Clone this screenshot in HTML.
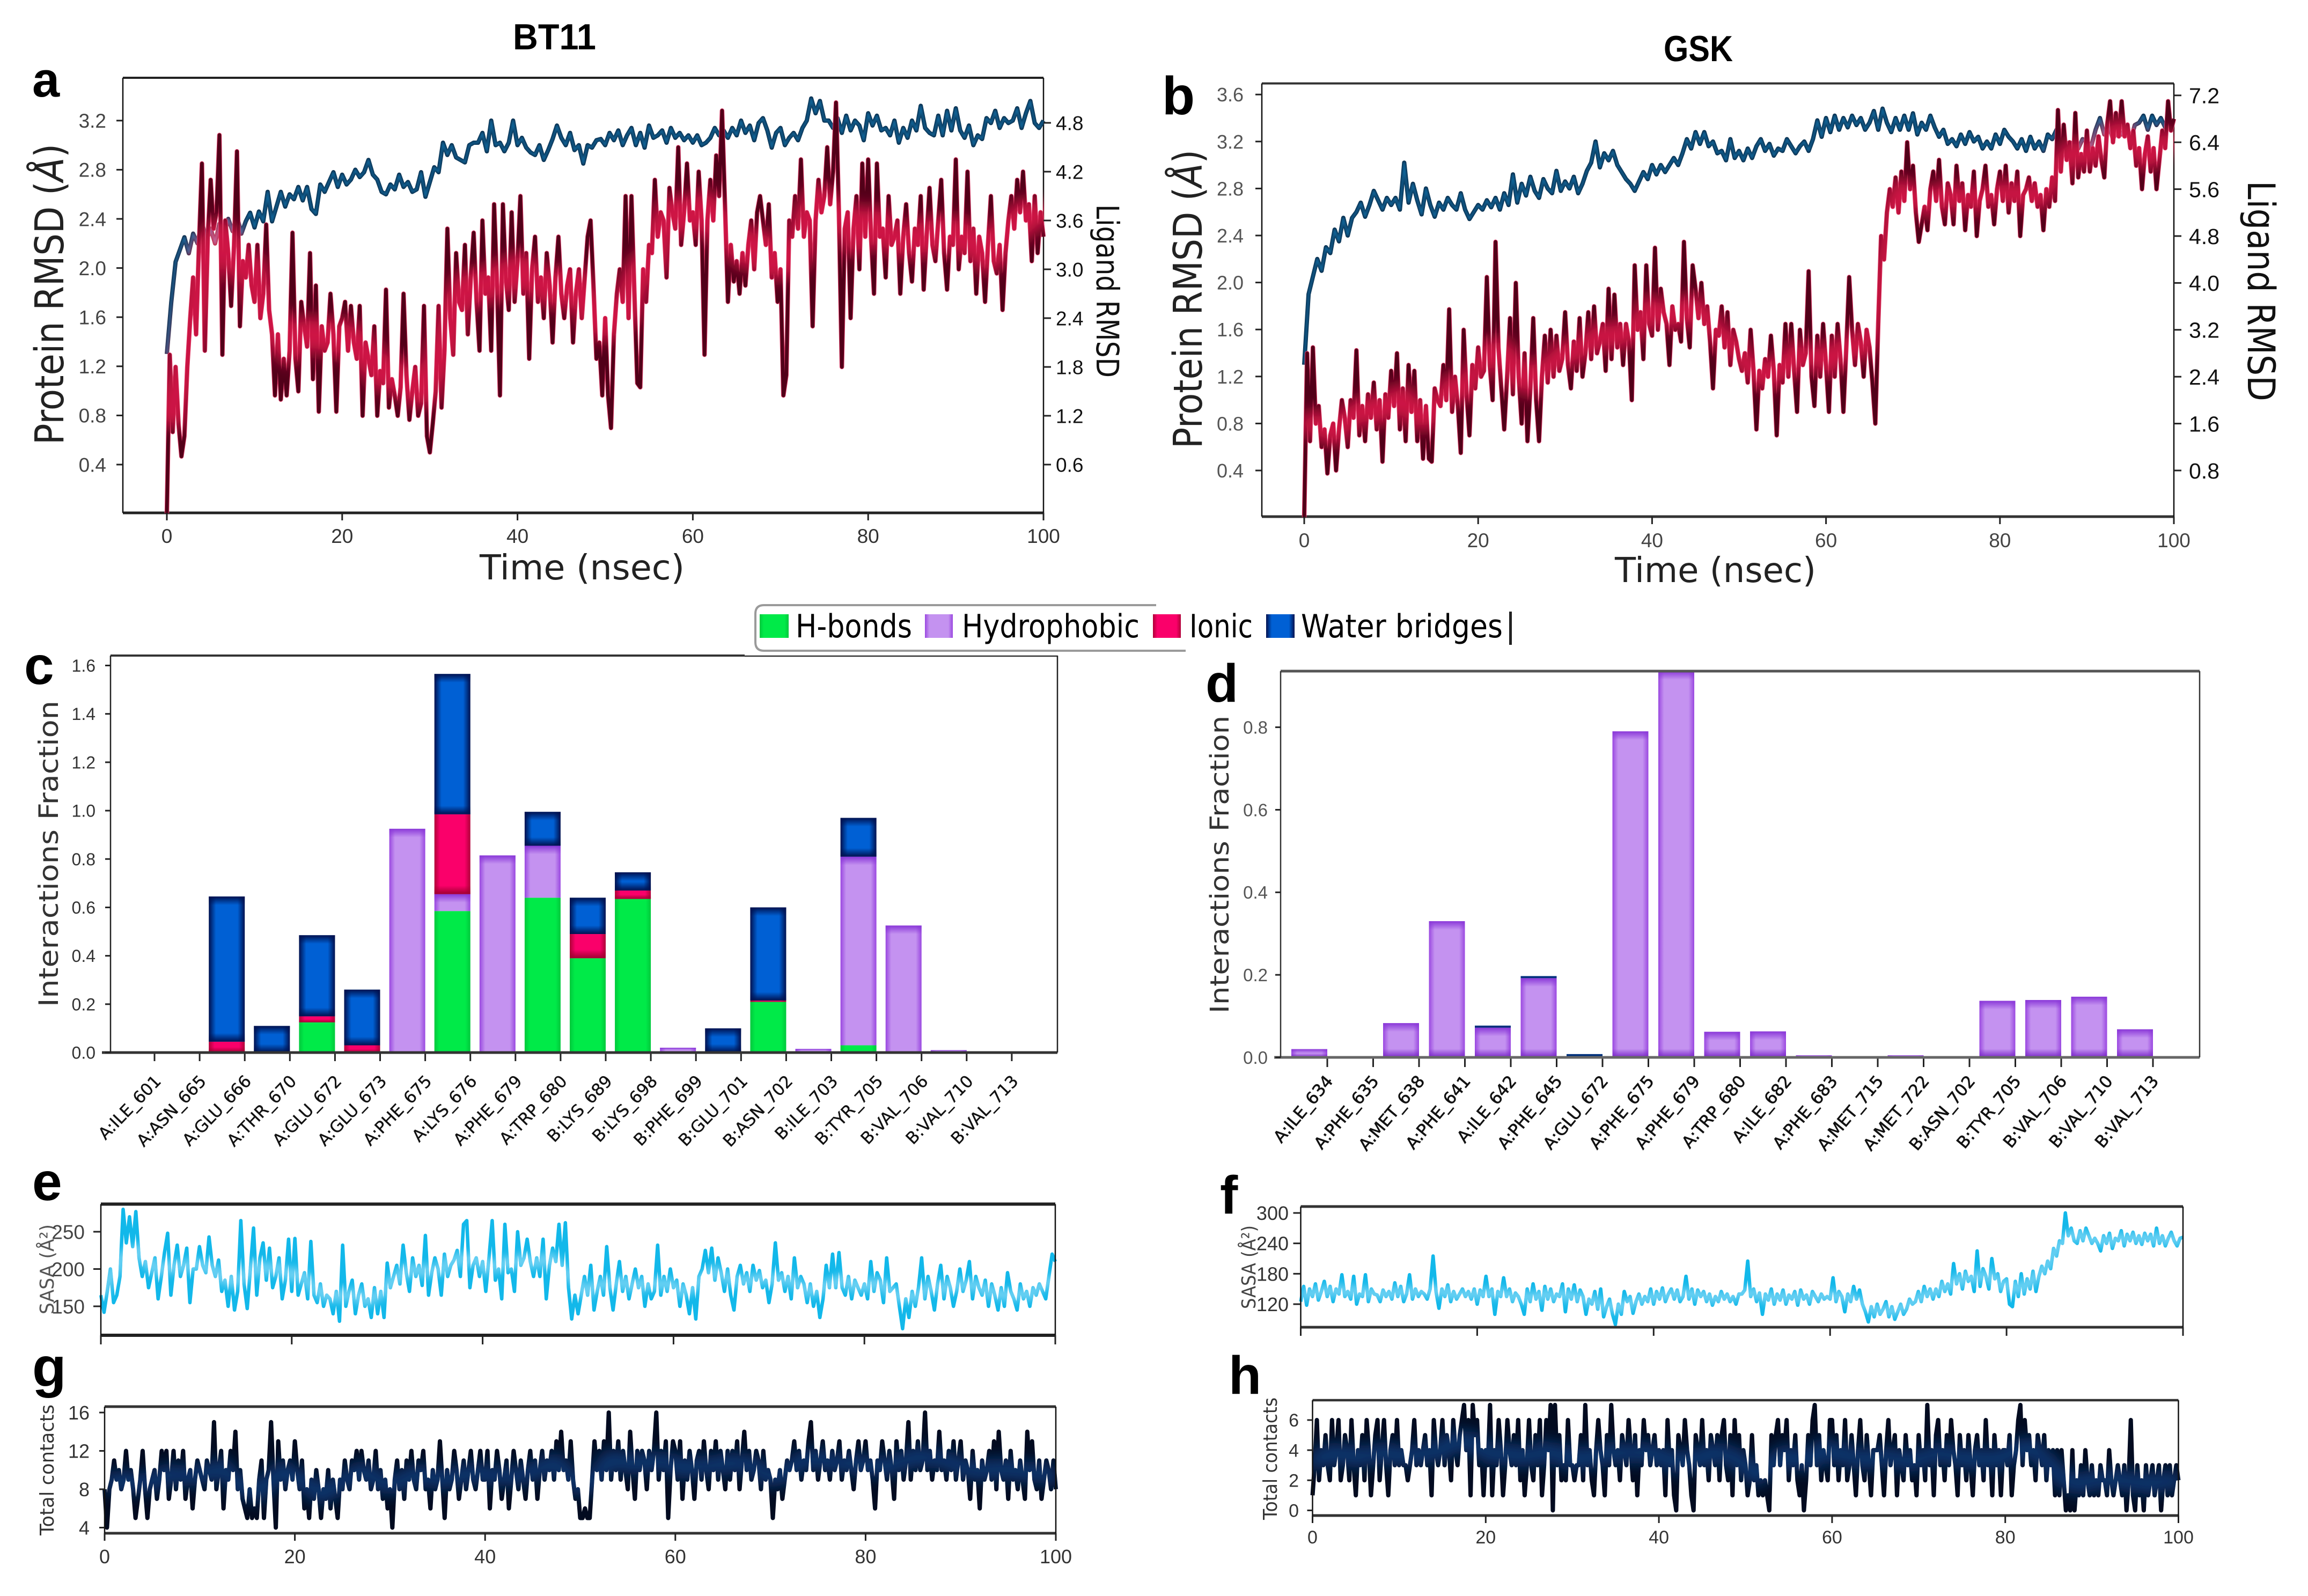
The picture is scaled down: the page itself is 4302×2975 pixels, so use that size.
<!DOCTYPE html>
<html lang="en">
<head>
<meta charset="utf-8">
<title>BT11 and GSK molecular dynamics panels</title>
<style>
html,body{margin:0;padding:0;background:#fff}
svg{display:block}
text{font-family:"Liberation Sans",sans-serif}
.dj{font-family:"DejaVu Sans",sans-serif}
</style>
</head>
<body>
<svg id="fig" xmlns="http://www.w3.org/2000/svg" width="4302" height="2975" viewBox="0 0 4302 2975">
<defs>
<linearGradient id="gGreen"><stop offset="0" stop-color="#00c83c"/><stop offset=".14" stop-color="#00ea48"/><stop offset=".86" stop-color="#00ea48"/><stop offset="1" stop-color="#00c83c"/></linearGradient>
<linearGradient id="gPurple"><stop offset="0" stop-color="#9a48e0"/><stop offset=".16" stop-color="#c492f0"/><stop offset=".84" stop-color="#c492f0"/><stop offset="1" stop-color="#9a48e0"/></linearGradient>
<linearGradient id="gPink"><stop offset="0" stop-color="#b00038"/><stop offset=".16" stop-color="#fa006a"/><stop offset=".84" stop-color="#fa006a"/><stop offset="1" stop-color="#b00038"/></linearGradient>
<linearGradient id="gBlue"><stop offset="0" stop-color="#00114f"/><stop offset=".2" stop-color="#0060d4"/><stop offset=".8" stop-color="#0060d4"/><stop offset="1" stop-color="#00114f"/></linearGradient>
<linearGradient id="gTopBlue" x1="0" y1="0" x2="0" y2="1"><stop offset="0" stop-color="#00114f"/><stop offset="1" stop-color="#00114f" stop-opacity="0"/></linearGradient>
<linearGradient id="gBotBlue" x1="0" y1="1" x2="0" y2="0"><stop offset="0" stop-color="#00114f"/><stop offset="1" stop-color="#00114f" stop-opacity="0"/></linearGradient>
<linearGradient id="gTopPurple" x1="0" y1="0" x2="0" y2="1"><stop offset="0" stop-color="#8a38d8"/><stop offset="1" stop-color="#8a38d8" stop-opacity="0"/></linearGradient>
<linearGradient id="gBotPurple" x1="0" y1="1" x2="0" y2="0"><stop offset="0" stop-color="#7a28c8"/><stop offset="1" stop-color="#7a28c8" stop-opacity="0"/></linearGradient>
<linearGradient id="gBotPink" x1="0" y1="1" x2="0" y2="0"><stop offset="0" stop-color="#a00030"/><stop offset="1" stop-color="#a00030" stop-opacity="0"/></linearGradient>
<filter id="blurS" filterUnits="userSpaceOnUse" x="0" y="0" width="4302" height="2975"><feGaussianBlur stdDeviation="2"/></filter>
<filter id="blurM" filterUnits="userSpaceOnUse" x="0" y="0" width="4302" height="2975"><feGaussianBlur stdDeviation="7"/></filter>
<filter id="blurL" filterUnits="userSpaceOnUse" x="0" y="0" width="4302" height="2975"><feGaussianBlur stdDeviation="14"/></filter>
</defs>
<rect x="0" y="0" width="4302" height="2975" fill="#fff"/>

<text x="956" y="92" font-size="68" font-weight="700" textLength="155" lengthAdjust="spacingAndGlyphs">BT11</text>
<text x="3101" y="114" font-size="68" font-weight="700" textLength="129" lengthAdjust="spacingAndGlyphs">GSK</text>

<text x="60" y="180" font-size="92" font-weight="700">a</text>
<text x="2166" y="213" font-size="100" font-weight="700">b</text>
<text x="45" y="1275" font-size="100" font-weight="700">c</text>
<text x="2247" y="1308" font-size="100" font-weight="700">d</text>
<text x="60" y="2237" font-size="100" font-weight="700">e</text>
<text x="2274" y="2262" font-size="100" font-weight="700">f</text>
<text x="60" y="2584" font-size="104" font-weight="700">g</text>
<text x="2290" y="2598" font-size="100" font-weight="700">h</text>

<text class="dj" transform="translate(118 829) rotate(-90)" font-size="74" fill="#222" textLength="561" lengthAdjust="spacingAndGlyphs">Protein RMSD (<tspan font-style="italic">Å</tspan>)</text>
<text class="dj" transform="translate(2044 381) rotate(90)" font-size="58" fill="#111" textLength="323" lengthAdjust="spacingAndGlyphs">Ligand RMSD</text>
<text class="dj" x="894" y="1080" font-size="64" fill="#222" textLength="382" lengthAdjust="spacingAndGlyphs">Time (nsec)</text>

<text class="dj" transform="translate(2240 836) rotate(-90)" font-size="74" fill="#222" textLength="557" lengthAdjust="spacingAndGlyphs">Protein RMSD (<tspan font-style="italic">Å</tspan>)</text>
<text class="dj" transform="translate(4190 337) rotate(90)" font-size="70" fill="#111" textLength="411" lengthAdjust="spacingAndGlyphs">Ligand RMSD</text>
<text class="dj" x="3010" y="1085" font-size="64" fill="#222" textLength="375" lengthAdjust="spacingAndGlyphs">Time (nsec)</text>

<text class="dj" transform="translate(108 1877) rotate(-90)" font-size="50" fill="#333" textLength="571" lengthAdjust="spacingAndGlyphs">Interactions Fraction</text>
<text class="dj" transform="translate(2290 1889) rotate(-90)" font-size="48" fill="#333" textLength="555" lengthAdjust="spacingAndGlyphs">Interactions Fraction</text>

<text class="dj" transform="translate(100 2450) rotate(-90)" font-size="36" fill="#555" textLength="168" lengthAdjust="spacingAndGlyphs">SASA (Å²)</text>
<text class="dj" transform="translate(2340 2440) rotate(-90)" font-size="36" fill="#444" textLength="156" lengthAdjust="spacingAndGlyphs">SASA (Å²)</text>
<text class="dj" transform="translate(100 2862) rotate(-90)" font-size="36" fill="#333" textLength="244" lengthAdjust="spacingAndGlyphs">Total contacts</text>
<text class="dj" transform="translate(2380 2833) rotate(-90)" font-size="36" fill="#333" textLength="228" lengthAdjust="spacingAndGlyphs">Total contacts</text>

<g>
<path d="M2155 1128H1424Q1408 1128 1408 1144V1197Q1408 1213 1424 1213H2210" fill="none" stroke="#9a9a9a" stroke-width="4"/>
<rect x="1416" y="1145" width="54" height="44" fill="url(#gGreen)"/>
<text class="dj" x="1483" y="1188" font-size="60" textLength="217" lengthAdjust="spacingAndGlyphs">H-bonds</text>
<rect x="1724" y="1145" width="52" height="44" fill="url(#gPurple)"/>
<text class="dj" x="1793" y="1188" font-size="60" textLength="331" lengthAdjust="spacingAndGlyphs">Hydrophobic</text>
<rect x="2149" y="1145" width="52" height="44" fill="url(#gPink)"/>
<text class="dj" x="2217" y="1188" font-size="60" textLength="118" lengthAdjust="spacingAndGlyphs">Ionic</text>
<rect x="2360" y="1145" width="53" height="44" fill="url(#gBlue)"/>
<text class="dj" x="2425" y="1188" font-size="60" textLength="376" lengthAdjust="spacingAndGlyphs">Water bridges</text>
<rect x="2813" y="1140" width="5" height="62" fill="#222"/>
</g>
</svg>

<script>
/* ---------- Panel a: RMSD, BT11 ---------- */
const aTimeTicks=[0,20,40,60,80,100];
const aProteinTicks=[0.4,0.8,1.2,1.6,2.0,2.4,2.8,3.2];
const aLigandTicks=[0.6,1.2,1.8,2.4,3.0,3.6,4.2,4.8];
const aProtein=[1.3,1.72,2.05,2.15,2.25,2.12,2.28,2.2,2.38,2.22,2.32,2.2,2.36,2.28,2.4,2.3,2.42,2.28,2.38,2.45,
2.33,2.46,2.38,2.62,2.38,2.5,2.62,2.5,2.6,2.56,2.66,2.55,2.66,2.48,2.44,2.68,2.62,2.7,2.78,2.66,
2.76,2.68,2.72,2.8,2.74,2.78,2.88,2.76,2.72,2.62,2.6,2.68,2.64,2.76,2.66,2.7,2.62,2.64,2.78,2.58,
2.7,2.82,2.78,3.02,2.92,3,2.9,2.88,2.86,3,3.02,3.02,3.1,2.95,3.2,3,3.02,2.95,3.02,3.2,
3,3.06,2.98,2.94,2.92,3,2.88,2.96,3.05,3.16,3.06,3,3.1,2.96,3,2.85,3,2.98,3.04,3.05,
3,3.1,3.04,3.12,3,3.08,3.14,3,3.1,2.98,3.16,3.06,3.08,3.12,3.02,3.14,3.06,3.1,3.04,3.08,
3.02,3.08,3,3.02,3.06,3.14,3.08,3.12,3.06,3.14,3.08,3.2,3.1,3.16,3.04,3.18,3.22,3.12,2.98,3.1,
3.14,3,3.06,3.1,3.04,3.14,3.2,3.38,3.26,3.36,3.2,3.2,3.14,3.22,3.1,3.24,3.12,3.2,3.16,3.04,
3.26,3.16,3.24,3.12,3.14,3.08,3.2,3.02,3.14,3.06,3.2,3.12,3.32,3.14,3.1,3.08,3.24,3.08,3.28,3.12,
3.3,3.12,3.06,3.16,3,3.08,3.05,3.22,3.18,3.28,3.14,3.22,3.18,3.2,3.3,3.14,3.26,3.36,3.18,3.14,3.2];
const aLigand=[0,1.95,1,1.8,1.1,.7,.95,1.8,2.4,2.9,2.2,3.3,4.3,2,3.4,4.1,3.5,3.7,4.65,1.95,3.6,3.2,2.55,3.3,4.45,2.3,3.1,2.9,3.3,2.8,
2.6,3.3,2.4,2.7,3.55,2.5,2.2,1.45,2.2,1.4,1.9,1.45,2,3.45,1.9,1.5,2.6,2.3,2.05,3.2,1.65,2.8,1.25,2.3,2,2.1,2.7,2.2,1.25,2.3,
2.4,2.6,2,2.55,2.1,1.9,2.55,1.2,2.1,1.9,1.7,2.3,1.2,1.75,1.6,2.75,1.3,1.65,1.45,1.2,1.55,2.7,1.7,1.15,1.5,1.8,1.2,1.35,2.55,.95,
.75,1.1,1.5,2.55,1.3,2,3.5,2.4,1.95,3.2,2.6,2.5,3.3,2.2,2.9,3.45,2.6,2,3.6,2.7,2.9,2,3.8,2.8,1.45,3.8,2.9,2.5,3.7,2.6,
3.1,3.9,2.7,3.2,1.9,3,3.4,2.6,2.9,2.4,3.2,2.8,2.1,2.9,3.4,2.7,2.4,2.8,3,2.1,2.7,3,2.4,2.9,3.4,3.6,2.8,1.9,2.1,1.45,
2.4,1.45,1.05,2.2,2.7,3,2.6,3.9,2.4,3.9,2.7,1.6,1.55,3,2.6,3.3,3.2,4.1,3.4,3.7,3.6,2.9,4,3.7,3.5,4.5,3.3,3.7,4.3,3.6,
3.7,3.3,4.2,3.6,1.95,3.6,4.1,3.6,4.4,3.9,4.95,3.8,2.6,3.3,2.85,3.1,2.7,3.2,2.8,3.3,3.6,3,3.7,3.9,3.6,3.3,3.8,2.9,3.2,2.6,
3,1.45,1.7,3.6,3.4,3.9,3.5,4.35,3.4,3.7,3.6,2.3,3.6,4.1,3.7,3.9,4.5,3.8,4.2,5.05,3.7,1.8,3.5,3.7,2.4,3.5,3.9,3,4.3,3.4,
4.35,3.4,2.7,4.3,3.4,3.5,2.9,3.9,3.3,3.4,3.6,2.7,3.4,3.8,3.2,2.85,3.5,3.3,3.9,2.75,3.4,4,3.3,3.1,3.6,4.1,3.2,2.75,3.4,3.3,
4.35,3,3.4,3.2,4.2,3.1,3.5,2.7,3.4,3.2,2.6,3.3,3.9,3.1,2.95,3.3,2.5,3.2,3.6,3.9,3.5,4.1,3.7,4.2,3.6,3.8,3.1,3.9,3.2,3.7,3.4];

/* ---------- Panel b: RMSD, GSK ---------- */
const bTimeTicks=[0,20,40,60,80,100];
const bProteinTicks=[0.4,0.8,1.2,1.6,2.0,2.4,2.8,3.2,3.6];
const bLigandTicks=[0.8,1.6,2.4,3.2,4.0,4.8,5.6,6.4,7.2];
const bProtein=[1.3,1.9,2.05,2.2,2.1,2.3,2.25,2.45,2.35,2.55,2.4,2.55,2.6,2.68,2.56,2.66,2.78,2.7,2.62,2.72,
2.66,2.72,2.62,3.02,2.68,2.84,2.7,2.58,2.8,2.66,2.56,2.68,2.62,2.72,2.66,2.62,2.76,2.62,2.54,2.6,
2.66,2.62,2.7,2.64,2.72,2.62,2.76,2.66,2.92,2.68,2.84,2.74,2.9,2.78,2.72,2.88,2.8,2.76,2.95,2.78,
2.86,2.8,2.9,2.76,2.84,2.95,3.02,3.2,2.98,3.1,3.04,3.12,3,2.94,2.88,2.84,2.78,2.86,2.94,2.88,
3,2.92,3,2.94,3,3.06,3,3.1,3.22,3.14,3.28,3.18,3.28,3.16,3.2,3.1,3.12,3.04,3.22,3.06,
3.12,3.04,3.14,3.06,3.16,3.22,3.12,3.18,3.08,3.14,3.12,3.22,3.16,3.1,3.16,3.2,3.12,3.22,3.38,3.24,
3.4,3.28,3.42,3.3,3.4,3.32,3.42,3.34,3.4,3.3,3.36,3.46,3.3,3.48,3.36,3.28,3.4,3.3,3.42,3.3,
3.44,3.26,3.36,3.3,3.42,3.32,3.24,3.3,3.18,3.22,3.16,3.26,3.18,3.28,3.2,3.24,3.14,3.2,3.14,3.26,
3.18,3.3,3.24,3.2,3.14,3.22,3.12,3.24,3.14,3.2,3.12,3.26,3.22,3.3,3.16,3.2,3.16,3.2,3.14,3.22,
3.2,3.16,3.3,3.4,3.26,3.34,3.22,3.3,3.26,3.32,3.2,3.34,3.36,3.42,3.3,3.42,3.34,3.4,3.32,3.38,3.36];
const bLigand=[0,2.8,1.3,2.9,1.6,1.9,1.2,1.5,.75,1.4,1.6,.8,1.5,2,1.7,1.2,2,1.7,2.85,1.4,1.9,1.3,2.1,1.7,2.3,1.5,2,.95,2.1,1.7,
2.5,1.9,2.8,1.5,2.2,1.3,2.6,1.8,2.5,1.3,2,1,1.9,1,.95,2.2,2,1.9,2.6,2,3.55,1.8,2.4,1.9,1.1,3.2,2.1,1.4,2.6,2.2,
2.9,2.4,2.5,4.1,2.6,2,4.7,2.9,2.2,1.5,2.4,3.4,2.1,4,2.4,1.6,2.8,1.3,2.2,3.4,2,1.3,2.4,3.1,2.3,3.2,2.4,3.1,2.5,2.7,
3.5,2.6,2.2,3,2.5,3.4,2.4,2.8,3.5,2.7,3.6,2.8,3,3.3,2.5,3.9,2.7,3.8,2.9,3.3,2.6,3.3,3,2,4.3,3.2,3.5,2.7,4.3,3.3,
3.1,4.6,3.2,3.9,3.5,3.3,2.6,3.6,3.2,3.3,3,4.7,3.4,2.9,4.3,3.9,3.4,4,3.3,3.6,3,2.2,3.2,3.1,3.6,2.9,3.5,2.6,3.2,3,
2.7,2.5,2.8,2.3,3.2,2.5,1.5,2.5,2.2,2.7,2.4,3.1,2.5,1.4,2.6,2.3,3.3,2.4,3.3,2.5,1.8,3.2,2.6,2.8,4.2,2.4,1.9,3.1,2.4,3.3,
2.6,1.8,3.1,2.4,3.3,2.7,1.8,2.9,4.1,3.2,2.6,3.3,3,2.4,3.2,2.9,2.3,1.6,3.3,4.8,4.4,5.2,5.6,5.3,5.8,5.2,5.9,5.4,6.4,5.6,
6,5.2,4.7,5,5.3,4.9,5.6,5.9,5.4,6.1,5.3,5,5.7,5.5,5,6,5.4,5.7,4.9,5.5,5.3,5.9,4.8,5.4,5.6,6,5.3,5.5,5,5.6,
5.9,5.4,6,5.2,5.7,5.4,5.9,4.8,5.5,5.6,5.8,5.4,5.7,5.3,5.5,4.9,5.6,5.3,5.8,5.4,6.95,5.9,6.7,6.1,6.4,5.7,6.9,5.8,6.2,5.9,
6.6,5.9,6.3,6,6.5,6.1,5.8,6.7,7.1,6.4,6.9,6.5,7.1,6.5,6.7,6.3,6.6,6,6.3,5.6,6.2,6.5,5.9,6.3,5.6,6.1,6.6,6.3,7.1,6.6,6.8];

/* ---------- Panel c: interaction fractions, BT11 ---------- */
const cResidues=["A:ILE_601","A:ASN_665","A:GLU_666","A:THR_670","A:GLU_672","A:GLU_673","A:PHE_675","A:LYS_676","A:PHE_679","A:TRP_680","B:LYS_689","B:LYS_698","B:PHE_699","B:GLU_701","B:ASN_702","B:ILE_703","B:TYR_705","B:VAL_706","B:VAL_710","B:VAL_713"];
const cHbonds=[0,0,0,0,.125,0,0,.585,0,.64,.39,.635,0,0,.21,0,.03,0,0,0];
const cHydrophobic=[0,0,0,0,0,0,.925,.07,.815,.215,0,0,.02,0,0,.015,.78,.525,.01,.004];
const cIonic=[0,0,.045,0,.025,.03,0,.33,0,0,.1,.035,0,0,.005,0,0,0,0,0];
const cWater=[0,0,.6,.11,.335,.23,0,.58,0,.14,.15,.075,0,.1,.385,0,.16,0,0,0];
const cTicks=[0.0,0.2,0.4,0.6,0.8,1.0,1.2,1.4,1.6];

/* ---------- Panel d: interaction fractions, GSK ---------- */
const dResidues=["A:ILE_634","A:PHE_635","A:MET_638","A:PHE_641","A:ILE_642","A:PHE_645","A:GLU_672","A:PHE_675","A:PHE_679","A:TRP_680","A:ILE_682","A:PHE_683","A:MET_715","A:MET_722","B:ASN_702","B:TYR_705","B:VAL_706","B:VAL_710","B:VAL_713"];
const dHydrophobic=[.02,.003,.083,.33,.072,.192,0,.79,.936,.062,.063,.005,.003,.005,0,.137,.139,.147,.068];
const dWater=[0,0,0,0,.005,.005,.008,0,0,0,0,0,0,0,.003,0,0,0,0];
const dTicks=[0.0,0.2,0.4,0.6,0.8];

/* ---------- Panels e, f: SASA ---------- */
const eTicks=[150,200,250];
const eSasa=[165,142,170,200,155,165,190,280,235,270,230,277,215,190,210,175,195,215,160,190,222,248,165,205,232,190,205,228,155,200,
200,230,205,195,243,205,190,212,170,185,150,190,145,170,265,180,147,200,255,165,215,235,185,228,175,190,215,160,185,240,
170,241,165,180,195,160,237,165,155,180,150,165,160,140,170,130,232,150,170,185,140,165,180,150,160,135,175,140,170,135,
208,175,190,205,180,232,195,170,215,190,205,178,245,165,195,215,200,165,220,190,205,212,225,190,260,265,175,205,215,190,
210,170,215,265,185,200,160,260,195,200,170,250,205,215,240,210,190,215,190,240,160,205,228,210,260,205,262,175,133,165,
140,165,190,165,205,145,170,190,165,230,175,145,180,210,170,190,160,180,200,175,190,150,180,160,170,232,165,190,170,200,
175,185,150,180,165,140,175,133,190,200,225,195,228,185,215,195,170,200,165,145,190,205,180,195,170,205,185,198,175,185,
155,180,235,185,195,170,190,160,215,175,190,180,155,180,150,170,135,160,205,175,220,175,222,175,165,190,160,185,175,165,
180,160,210,170,195,185,155,215,170,175,180,150,120,160,135,170,150,175,215,160,190,170,145,180,205,160,190,175,150,170,
200,170,185,210,160,190,175,165,185,150,180,165,145,175,150,195,170,160,145,180,160,170,150,175,165,180,170,160,190,220,210];
const fTicks=[120,180,240,300];
const fSasa=[125,155,118,150,135,160,128,145,165,135,155,125,150,140,178,135,145,130,175,120,140,135,178,125,150,140,138,125,148,135,
145,130,162,135,155,125,140,178,130,150,135,145,140,130,150,215,145,112,150,135,158,125,145,130,140,150,135,145,130,150,
120,148,135,175,135,150,100,145,135,172,135,150,125,142,135,120,100,150,125,160,130,145,108,155,130,150,125,140,135,160,
105,150,130,158,125,148,135,100,130,120,145,110,150,95,115,130,100,80,120,100,145,125,135,102,125,140,120,135,125,150,
120,145,130,152,125,140,150,130,148,125,135,175,130,150,120,148,135,145,125,140,118,135,125,145,130,140,125,135,120,140,
140,148,205,135,150,125,142,100,140,128,150,120,140,128,148,120,138,130,145,118,148,130,138,120,145,135,125,140,130,135,
130,172,125,145,135,105,140,125,155,130,148,120,105,85,115,95,120,100,110,125,95,115,90,105,120,100,110,130,120,125,
145,125,155,135,150,130,150,135,165,145,160,140,200,160,180,150,185,165,175,145,225,155,190,175,150,210,170,180,145,165,
170,120,115,165,135,180,140,170,150,185,145,175,195,180,205,190,230,215,245,240,300,255,270,245,240,265,245,270,255,240,
250,240,225,255,240,260,230,250,245,265,235,258,245,262,240,255,238,260,245,258,235,270,240,255,235,250,262,245,235,250,252];

/* ---------- Panels g, h: total contacts ---------- */
const gTicks=[4,8,12,16];
const gTimeTicks=[0,20,40,60,80,100];
const gContacts=[8,4,8,9,11,9,10,8,9,12,9,10,8,5,7,9,12,8,5,8,9,10,7,9,12,10,12,7,9,12,8,11,9,12,7,9,10,6,9,11,
10,9,8,11,10,9,15,8,10,12,6,10,9,12,10,14,8,10,7,6,5,8,5,6,5,9,11,5,9,10,15,9,4,13,9,11,8,10,11,9,
13,10,8,11,6,8,5,9,7,10,8,5,8,7,10,6,9,7,5,9,8,11,9,8,11,10,12,9,12,10,9,11,8,9,12,8,10,7,9,6,
8,4,9,11,8,10,7,11,9,12,9,8,11,10,12,8,9,6,10,8,9,13,9,5,10,8,9,12,10,7,9,11,8,10,12,9,8,10,12,9,
9,12,6,10,9,12,10,7,9,11,6,9,12,10,8,11,9,7,10,12,9,11,7,10,12,9,11,10,12,9,13,10,14,10,11,9,13,9,7,8,
5,5,6,5,5,9,13,10,12,9,13,10,16,9,12,10,13,9,12,10,8,14,10,7,12,10,12,11,8,12,10,12,16,9,12,10,13,5,10,13,
12,9,13,7,11,9,12,10,7,11,12,9,13,10,8,12,10,13,9,12,10,8,12,9,12,10,13,8,11,14,10,12,9,10,12,11,8,12,9,10,
9,5,9,8,10,7,9,11,10,11,13,10,12,9,11,10,13,15,10,12,9,11,13,10,11,9,12,10,11,13,9,11,10,12,10,8,11,13,10,11,
13,10,11,9,6,11,10,13,11,9,12,10,7,13,10,12,9,11,15,9,12,10,13,10,11,16,10,12,9,11,10,14,10,11,9,12,10,13,9,11,
13,9,11,10,7,12,9,10,6,11,9,10,12,9,13,8,14,10,9,11,7,12,9,10,8,11,9,7,14,10,13,9,8,11,7,9,11,10,8,11,8];
const hTicks=[0,2,4,6];
const hTimeTicks=[0,20,40,60,80,100];
const hContacts=[1,3,6,2,4,3,5,3,2,6,3,4,6,2,3,5,4,2,6,3,1,4,3,5,2,6,4,1,3,5,6,2,4,6,3,1,4,5,3,6,
3,4,3,3,2,3,4,6,3,4,3,4,5,3,4,1,6,4,3,4,6,3,5,4,2,6,4,3,5,6,7,4,6,1,7,5,6,3,4,1,
4,3,7,1,4,3,6,4,1,3,6,4,3,5,3,6,2,4,1,3,6,3,2,5,3,6,1,3,6,4,7,0,7,3,5,2,3,2,6,3,
3,2,3,3,5,2,7,3,4,2,1,4,6,4,3,1,5,3,7,4,3,4,2,5,4,3,6,4,2,5,1,4,3,6,4,5,3,4,5,3,
4,3,4,1,6,3,4,1,0,5,4,3,6,4,3,1,0,5,4,3,6,3,4,2,5,4,3,5,2,5,6,3,2,5,1,6,3,5,2,4,
3,1,2,5,2,3,1,2,1,2,1,0,5,3,5,6,3,5,4,6,2,4,3,5,2,1,3,0,2,5,3,6,7,3,5,2,4,3,2,6,
6,3,5,2,4,3,6,2,3,5,3,1,4,6,3,2,5,3,1,4,4,4,5,3,1,4,6,3,4,5,1,4,3,2,5,3,4,2,3,1,
5,3,4,2,7,3,4,1,5,6,3,4,2,5,3,6,4,3,1,5,3,4,2,5,3,1,4,5,3,4,2,6,3,4,1,5,3,4,1,4,
4,3,5,1,3,4,6,7,3,6,4,5,3,4,2,5,4,3,5,2,4,3,4,1,4,1,4,2,0,1,0,4,0,2,1,3,1,4,2,1,
3,1,2,1,3,2,2,1,4,2,1,2,3,2,1,3,0,2,6,1,0,3,1,2,0,3,1,2,3,1,2,3,0,2,3,1,3,1,2,3,2];

/* ---------- drawing helpers ---------- */
const NS="http://www.w3.org/2000/svg";
const svg=document.getElementById("fig");
function make(tag,name,attrs){
  const el=document.createElementNS(NS,tag);
  
  
  for(const k in attrs){el.setAttribute(k,attrs[k]);}
  svg.appendChild(el);
  return el;
}
function label(name,str,x,y,size,anchor,fill,extra){
  const a=Object.assign({x:x,y:y,"font-size":size,"text-anchor":anchor,fill:fill},extra||{});
  const el=make("text",name,a);
  el.textContent=str;
  return el;
}
function hline(name,x0,x1,y,w,c){make("line",name,{x1:x0,x2:x1,y1:y,y2:y,stroke:c,"stroke-width":w});}
function vline(name,x,y0,y1,w,c){make("line",name,{x1:x,x2:x,y1:y0,y2:y1,stroke:c,"stroke-width":w});}
function linear(px0,v0,px1,v1){return v=>px0+(px1-px0)*(v-v0)/(v1-v0);}
function smooth(values,half){
  return values.map((_,i)=>{
    let s=0,n=0;
    for(let j=Math.max(0,i-half);j<=Math.min(values.length-1,i+half);j++){s+=values[j];n++;}
    return s/n;
  });
}
function toPoints(values,xf,yf){
  return values.map((v,i)=>xf(i*100/(values.length-1)).toFixed(1)+","+yf(v).toFixed(1)).join(" ");
}
/* dark trace with a bright core where the samples crowd together (the band centre) */
function trace(name,values,xf,yf,s){
  const pts=toPoints(values,xf,yf);
  if(s.halo){make("polyline",name+"-halo",{points:pts,fill:"none",stroke:s.halo,"stroke-width":s.haloW,"stroke-linejoin":"round"});}
  make("polyline",name,{points:pts,fill:"none",stroke:s.line,"stroke-width":s.lineW,"stroke-linejoin":"round"});
  const core=make("polyline",name+"-core",{points:toPoints(smooth(values,s.half),xf,yf),fill:"none",stroke:s.glow,"stroke-width":s.glowW,"stroke-opacity":s.glowO,"stroke-linejoin":"round",filter:"url(#"+s.blur+")"});
  core.style.mixBlendMode="lighten";
}
function frame(p,x0,x1,yT,yB,wT,wB,c){
  hline(p+"-frame-top",x0,x1,yT,wT,c);
  hline(p+"-frame-bottom",x0,x1,yB,wB,c);
  vline(p+"-frame-left",x0,yT,yB,2.5,"#111");
  vline(p+"-frame-right",x1,yT,yB,2.5,"#111");
}
function xTicks(p,ticks,xf,yB,len,labelY,size,fill){
  ticks.forEach(t=>{
    vline(p+"-x-tick-"+t,xf(t),yB,yB+len,3,"#222");
    if(labelY){label(p+"-x-tick-label-"+t,String(t),xf(t),labelY,size,"middle",fill);}
  });
}
function yTicks(p,ticks,yf,xAxis,dir,len,labelX,anchor,size,fill,digits){
  ticks.forEach(t=>{
    const txt=t.toFixed(digits);
    hline(p+"-y-tick-"+txt,xAxis,xAxis+dir*len,yf(t),3,"#222");
    label(p+"-y-tick-label-"+txt,txt,labelX,yf(t)+size*0.36,size,anchor,fill);
  });
}
function segment(p,name,x,w,yf,base,h,fill,topShade,botShade){
  if(h<=0)return;
  const yTop=yf(base+h),yBot=yf(base);
  const ht=Math.max(yBot-yTop,2.5);
  make("rect",p+"-"+name,{x:x,y:yTop,width:w,height:ht,fill:fill});
  const s=Math.min(16,ht/2);
  if(topShade){make("rect",p+"-"+name+"-top-shade",{x:x,y:yTop,width:w,height:s,fill:topShade});}
  if(botShade){make("rect",p+"-"+name+"-bottom-shade",{x:x,y:yBot-s,width:w,height:s,fill:botShade});}
}
const proteinStyle={line:"#0b2a46",lineW:8,glow:"#0a6fa6",glowO:.9,glowW:4,blur:"blurS",half:0};
const ligandStyleA={halo:"#e0406c",haloW:8.5,line:"#520019",lineW:6.5,glow:"#e4144e",glowO:.85,glowW:60,blur:"blurL",half:6};
const ligandStyleB={halo:"#e0406c",haloW:8.5,line:"#520019",lineW:6.5,glow:"#e4144e",glowO:.85,glowW:44,blur:"blurL",half:5};
const sasaStyle={line:"#12b8ea",lineW:6.5,glow:"#7fd6f5",glowO:.8,glowW:22,blur:"blurM",half:5};
const contactStyle={line:"#020b20",lineW:8,glow:"#083c78",glowO:.9,glowW:36,blur:"blurL",half:7};

/* ---------- panel a ---------- */
(function(){
  const x=linear(311,0,1945,100), yL=linear(957.6,0,866,0.4), yR=linear(957,0,866,0.6);
  frame("a",229,1945,145,956,4,5,"#222");
  trace("a-protein-rmsd-line",aProtein,x,yL,proteinStyle);
  trace("a-ligand-rmsd-line",aLigand,x,yR,ligandStyleA);
  xTicks("a",aTimeTicks,x,956,14,1012,37,"#333");
  yTicks("a-left",aProteinTicks,yL,229,-1,12,198,"end",37,"#444",1);
  yTicks("a-right",aLigandTicks,yR,1945,1,14,1968,"start",37,"#111",1);
})();

/* ---------- panel b ---------- */
(function(){
  const x=linear(2431,0,4052,100), yL=linear(964.6,0,877,0.4), yR=linear(964.4,0,877,0.8);
  frame("b",2352,4052,155.5,963,4,5,"#333");
  trace("b-protein-rmsd-line",bProtein,x,yL,proteinStyle);
  trace("b-ligand-rmsd-line",bLigand,x,yR,ligandStyleB);
  xTicks("b",bTimeTicks,x,963,14,1020,37,"#444");
  yTicks("b-left",bProteinTicks,yL,2352,-1,12,2318,"end",36,"#555",1);
  yTicks("b-right",bLigandTicks,yR,4052,1,14,4080,"start",41,"#111",1);
})();

/* ---------- panel c ---------- */
(function(){
  const y=linear(1962,0,1240.5,1.6), xTick=i=>288+84.1*i, w=67;
  cResidues.forEach((r,i)=>{
    const xr=xTick(i)-w;
    let b=0;
    segment("bar-"+r,"h-bonds",xr,w,y,b,cHbonds[i],"url(#gGreen)");
    b+=cHbonds[i];
    segment("bar-"+r,"hydrophobic",xr,w,y,b,cHydrophobic[i],"url(#gPurple)","url(#gTopPurple)");
    b+=cHydrophobic[i];
    segment("bar-"+r,"ionic",xr,w,y,b,cIonic[i],"url(#gPink)",null,"url(#gBotPink)");
    b+=cIonic[i];
    segment("bar-"+r,"water-bridges",xr,w,y,b,cWater[i],"url(#gBlue)","url(#gTopBlue)","url(#gBotBlue)");
    vline("c-x-tick-"+r,xTick(i),1962,1978,3,"#222");
    const lx=xTick(i)+14;
    label("c-x-tick-label-"+r,r,lx,2017,31,"end","#111",{class:"dj",stroke:"#111","stroke-width":0.4,transform:"rotate(-46 "+lx+" 2017)"});
  });
  hline("c-frame-top-heavy",206,1388,1222,4,"#333");
  hline("c-frame-top",1388,1971,1223,2.5,"#333");
  hline("c-frame-bottom",190,1971,1962,5,"#333");
  vline("c-frame-left",206,1222,1962,2.5,"#222");
  vline("c-frame-right",1971,1222,1962,2.5,"#222");
  yTicks("c",cTicks,y,206,-1,10,178,"end",32,"#333",1);
})();

/* ---------- panel d ---------- */
(function(){
  const y=linear(1971,0,1355.6,0.8), xTick=i=>2474+85.5*i, w=67;
  dResidues.forEach((r,i)=>{
    const xr=xTick(i)-w;
    segment("bar-"+r,"hydrophobic",xr,w,y,0,dHydrophobic[i],"url(#gPurple)","url(#gTopPurple)","url(#gBotPurple)");
    segment("bar-"+r,"water-bridges",xr,w,y,dHydrophobic[i],dWater[i],"#00307c");
    vline("d-x-tick-"+r,xTick(i),1971,1989,3,"#222");
    const lx=xTick(i)+12;
    label("d-x-tick-label-"+r,r,lx,2016,31,"end","#111",{class:"dj",stroke:"#111","stroke-width":0.7,transform:"rotate(-50 "+lx+" 2016)"});
  });
  hline("d-frame-top",2387,4100,1251,5,"#555");
  hline("d-frame-bottom",2375,4100,1971,5,"#666");
  vline("d-frame-left",2387,1251,1971,2.5,"#333");
  vline("d-frame-right",4100,1251,1971,2.5,"#333");
  yTicks("d",dTicks,y,2387,-1,10,2363,"end",33,"#555",1);
})();

/* ---------- panel e ---------- */
(function(){
  const x=linear(188,0,1967,100), y=linear(2435,150,2296,250);
  trace("e-sasa-line",eSasa,x,y,sasaStyle);
  frame("e",188,1967,2244.5,2489,6,6,"#222");
  xTicks("e",gTimeTicks,x,2489,17,0,0,"#222");
  yTicks("e",eTicks,y,188,-1,14,158,"end",37,"#444",0);
})();

/* ---------- panel f ---------- */
(function(){
  const x=linear(2424.5,0,4069,100), y=linear(2431,120,2261,300);
  trace("f-sasa-line",fSasa,x,y,sasaStyle);
  frame("f",2424.5,4069,2249,2474,5,5,"#333");
  xTicks("f",gTimeTicks,x,2474,16,0,0,"#222");
  yTicks("f",fTicks,y,2424.5,-1,14,2402,"end",36,"#333",0);
})();

/* ---------- panel g ---------- */
(function(){
  const x=linear(195,0,1968,100), y=linear(2776,8,2633,16);
  trace("g-contacts-line",gContacts,x,y,contactStyle);
  frame("g",195,1968,2622,2858,5,5,"#333");
  xTicks("g",gTimeTicks,x,2858,14,2914,36,"#333");
  yTicks("g",gTicks,y,195,-1,10,167,"end",36,"#333",0);
})();

/* ---------- panel h ---------- */
(function(){
  const x=linear(2446.5,0,4060.5,100), y=linear(2815.4,0,2647,6);
  trace("h-contacts-line",hContacts,x,y,contactStyle);
  frame("h",2446.5,4060.5,2610,2825,4.5,5,"#333");
  xTicks("h",hTimeTicks,x,2825,14,2877,34,"#333");
  yTicks("h",hTicks,y,2446.5,-1,10,2421,"end",34,"#333",0);
})();
</script>
</body>
</html>
